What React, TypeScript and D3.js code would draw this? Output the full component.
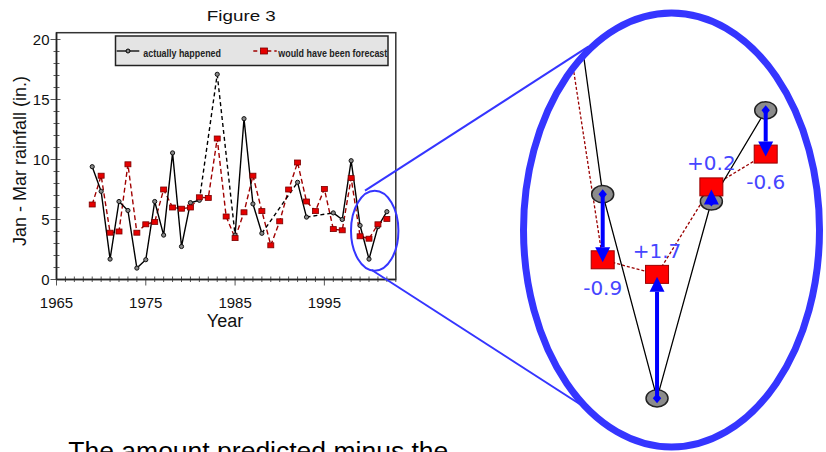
import React from 'react';
import * as d3 from 'd3';

const years: number[] = [
  1969, 1970, 1971, 1972, 1973, 1974, 1975, 1976, 1977, 1978, 1979, 1980,
  1981, 1982, 1983, 1984, 1985, 1986, 1987, 1988, 1989, 1990, 1991, 1992,
  1993, 1994, 1995, 1996, 1997, 1998, 1999, 2000, 2001, 2002,
];
const actual: (number | null)[] = [
  9.4, 7.35, 1.7, 6.5, 5.75, 0.95, 1.65, 6.5, 3.7, 10.55, 2.75, 6.4,
  6.6, null, 17.1, null, 3.7, 13.4, 6.3, 3.85, null, null, null, 8.1,
  5.2, null, null, 5.55, 5.0, 9.9, 4.5, 1.7, 4.4, 5.65,
];
const forecast: number[] = [
  6.25, 8.65, 3.9, 4.0, 9.6, 3.9, 4.6, 4.8, 7.5, 6.0, 5.9, 6.0,
  6.85, 6.8, 11.75, 5.25, 3.45, 5.6, 8.65, 5.7, 2.85, 4.85, 7.5, 9.75,
  6.5, 5.7, 7.55, 4.2, 4.1, 8.45, 3.6, 3.4, 4.6, 5.05,
];
const xTickLabels: number[] = [1965, 1975, 1985, 1995];
const yTickLabels: number[] = [0, 5, 10, 15, 20];
const insetYears: number[] = [1999, 2000, 2001, 2002];
const legendLabels: string[] = ['actually happened', 'would have been forecast'];
const titleText = 'Figure 3';
const xTitle = 'Year';
const yTitle = 'Jan - Mar rainfall (in.)';
const captionText = 'The amount predicted minus the';

type Pt = { yr: number; v: number | null };

const SANS = "'Liberation Sans', Arial, Helvetica, sans-serif";
const NARROW = "'Liberation Sans Narrow', 'Arial Narrow', 'Liberation Sans', Arial, sans-serif";
const BLUE = '#3535ff';

export default function App() {
  const x = d3.scaleLinear().domain([1965, 2003]).range([56.5, 395.8]);
  const y = d3.scaleLinear().domain([0, 20]).range([279.5, 39.5]);
  const frameTop = 32.7;

  const ix = d3.scaleLinear().domain([1999, 2002]).range([602.7, 765.7]);
  const iy = d3.scaleLinear().domain([1.7, 5.7]).range([398.3, 106.7]);

  const aPts: Pt[] = years.map((yr, i) => ({ yr, v: actual[i] }));
  const fPts: Pt[] = years.map((yr, i) => ({ yr, v: forecast[i] }));
  const valid = aPts.filter((d) => d.v !== null);
  const gaps: Pt[][] = [];
  for (let i = 1; i < valid.length; i++) {
    if (valid[i].yr - valid[i - 1].yr > 1) gaps.push([valid[i - 1], valid[i]]);
  }

  const mkLine = (sx: d3.ScaleLinear<number, number>, sy: d3.ScaleLinear<number, number>) =>
    d3
      .line<Pt>()
      .defined((d) => d.v !== null)
      .x((d) => sx(d.yr))
      .y((d) => sy(d.v as number));

  const mainLine = mkLine(x, y);
  const insetLine = mkLine(ix, iy);

  const minorY = d3.range(0, 21, 1);
  const minorX = d3.range(1965, 2004, 1);

  const insetData = insetYears.map((yr) => {
    const i = years.indexOf(yr);
    return { yr, a: actual[i] as number, f: forecast[i] };
  });

  // ellipse geometry
  const big = { cx: 671.5, cy: 230, rx: 148, ry: 217 };
  const small = { cx: 374.7, cy: 230.7, rx: 23.7, ry: 40 };

  return (
    <svg
      width={826}
      height={452}
      style={{ position: 'absolute', left: 0, top: 0, background: '#fff' }}
    >
      <defs>
        <clipPath id="insetClip">
          <ellipse cx={big.cx} cy={big.cy} rx={big.rx - 3} ry={big.ry - 3} />
        </clipPath>
        <clipPath id="plotClip">
          <rect x={x(1965)} y={frameTop} width={x(2003) - x(1965)} height={y(0) - frameTop} />
        </clipPath>
      </defs>
      <rect x={0} y={0} width={826} height={452} fill="#fff" />

      {/* Title */}
      <text
        x={241.3}
        y={20.7}
        textAnchor="middle"
        fontFamily={SANS}
        fontSize={15}
        textLength={69}
        lengthAdjust="spacingAndGlyphs"
        fill="#111"
      >
        {titleText}
      </text>

      {/* Frame */}
      <rect
        x={x(1965)}
        y={frameTop}
        width={x(2003) - x(1965)}
        height={y(0) - frameTop}
        fill="none"
        stroke="#333"
        strokeWidth={1.5}
      />

      {/* Y ticks */}
      {minorY.map((v) => (
        <line
          key={'my' + v}
          x1={x(1965) - (v % 5 === 0 ? 6 : 3)}
          x2={x(1965) + (v % 5 === 0 ? 4 : 3)}
          y1={y(v)}
          y2={y(v)}
          stroke="#555"
          strokeWidth={1}
        />
      ))}
      {yTickLabels.map((v) => (
        <text
          key={'yl' + v}
          x={49.5}
          y={y(v)}
          dy="0.36em"
          textAnchor="end"
          fontFamily={SANS}
          fontSize={15}
          fill="#111"
        >
          {v}
        </text>
      ))}
      {/* X ticks */}
      {minorX.map((yr) => (
        <line
          key={'mx' + yr}
          x1={x(yr)}
          x2={x(yr)}
          y1={y(0) - 3}
          y2={y(0) + ((yr - 1965) % 10 === 0 ? 6 : 2.5)}
          stroke="#555"
          strokeWidth={1}
        />
      ))}
      {xTickLabels.map((yr) => (
        <text
          key={'xl' + yr}
          x={x(yr)}
          y={308.3}
          textAnchor="middle"
          fontFamily={SANS}
          fontSize={15}
          fill="#111"
        >
          {yr}
        </text>
      ))}
      {/* axis lines */}
      <line x1={x(1965)} x2={x(2003)} y1={y(0)} y2={y(0)} stroke="#222" strokeWidth={1.5} />
      <line x1={x(1965)} x2={x(1965)} y1={frameTop} y2={y(0)} stroke="#222" strokeWidth={1.5} />

      {/* Axis titles */}
      <text x={225} y={326.5} textAnchor="middle" fontFamily={SANS} fontSize={18} fill="#111">
        {xTitle}
      </text>
      <text
        transform="translate(26,161) rotate(-90)"
        textAnchor="middle"
        fontFamily={SANS}
        fontSize={18}
        fill="#111"
      >
        {yTitle}
      </text>

      {/* Legend */}
      <rect x={115.5} y={36} width={272.5} height={29.5} fill="#e4e4e4" stroke="#222" strokeWidth={1.5} />
      <line x1={116.7} x2={139.3} y1={51} y2={51} stroke="#000" strokeWidth={1.3} />
      <circle cx={128} cy={51} r={2} fill="#888" stroke="#000" strokeWidth={1} />
      <text
        x={143.3}
        y={57}
        fontFamily={NARROW}
        fontWeight="bold"
        fontSize={11}
        textLength={77.7}
        lengthAdjust="spacingAndGlyphs"
        fill="#222"
      >
        {legendLabels[0]}
      </text>
      <line
        x1={253.3}
        x2={276.7}
        y1={51}
        y2={51}
        stroke="#a00000"
        strokeWidth={1.3}
        strokeDasharray="4,3"
      />
      <rect x={260.5} y={48} width={7} height={6} fill="#e60000" stroke="#7a0000" strokeWidth={0.8} />
      <text
        x={278.3}
        y={57}
        fontFamily={NARROW}
        fontWeight="bold"
        fontSize={11}
        textLength={109}
        lengthAdjust="spacingAndGlyphs"
        fill="#222"
      >
        {legendLabels[1]}
      </text>

      {/* Series */}
      <g clipPath="url(#plotClip)">
        <path
          d={mainLine(fPts) || ''}
          fill="none"
          stroke="#a00000"
          strokeWidth={1.4}
          strokeDasharray="5,3"
        />
        {gaps.map((g, i) => (
          <path
            key={'gap' + i}
            d={mainLine(g) || ''}
            fill="none"
            stroke="#000"
            strokeWidth={1.4}
            strokeDasharray="4,3"
          />
        ))}
        <path d={mainLine(aPts) || ''} fill="none" stroke="#000" strokeWidth={1.4} />
        {valid.map((d) => (
          <circle
            key={'c' + d.yr}
            cx={x(d.yr)}
            cy={y(d.v as number)}
            r={2.1}
            fill="#888"
            stroke="#111"
            strokeWidth={1}
          />
        ))}
        {fPts.map((d) => (
          <rect
            key={'s' + d.yr}
            x={x(d.yr) - 3}
            y={y(d.v as number) - 2.5}
            width={6}
            height={5}
            fill="#e60000"
            stroke="#7a0000"
            strokeWidth={0.8}
          />
        ))}
      </g>

      {/* Small ellipse and connecting lines */}
      <ellipse
        cx={small.cx}
        cy={small.cy}
        rx={small.rx}
        ry={small.ry}
        fill="none"
        stroke={BLUE}
        strokeWidth={2}
      />
      <line x1={365} y1={190.7} x2={588.3} y2={46.7} stroke={BLUE} strokeWidth={2} />
      <line x1={371.7} y1={270} x2={596.7} y2={415} stroke={BLUE} strokeWidth={2} />

      {/* Inset */}
      <ellipse cx={big.cx} cy={big.cy} rx={big.rx} ry={big.ry} fill="#fff" />
      <g clipPath="url(#insetClip)">
        <path
          d={insetLine(fPts) || ''}
          fill="none"
          stroke="#9a0000"
          strokeWidth={1.3}
          strokeDasharray="3,2"
        />
        <path d={insetLine(aPts) || ''} fill="none" stroke="#000" strokeWidth={1.3} />
        {valid.map((d) => (
          <ellipse
            key={'ic' + d.yr}
            cx={ix(d.yr)}
            cy={iy(d.v as number)}
            rx={11}
            ry={8.6}
            fill="#8c8c8c"
            stroke="#222"
            strokeWidth={1.5}
          />
        ))}
        {fPts.map((d) => (
          <rect
            key={'is' + d.yr}
            x={ix(d.yr) - 11.5}
            y={iy(d.v as number) - 9}
            width={23}
            height={18}
            fill="#ff0000"
            stroke="#990000"
            strokeWidth={1}
          />
        ))}
        {insetData.map((d) => {
          const ax = ix(d.yr);
          const y1 = iy(d.a);
          const y2 = iy(d.f);
          const dir = y2 > y1 ? 1 : -1;
          const tip = y2 + 2.5;
          const base = tip - dir * 15;
          return (
            <g key={'ar' + d.yr}>
              <line x1={ax} x2={ax} y1={y1} y2={base} stroke="#0000ff" strokeWidth={4} />
              <path
                d={`M${ax},${tip}L${ax - 7.5},${base}L${ax + 7.5},${base}Z`}
                fill="#0000ff"
              />
              <path
                d={`M${ax},${y1 - 5}L${ax + 4.2},${y1}L${ax},${y1 + 5}L${ax - 4.2},${y1}Z`}
                fill="#0000ff"
              />
            </g>
          );
        })}
        {insetData.map((d) => {
          const diff = d.f - d.a;
          const yPos = iy(d.f);
          const label = (diff > 0 ? '+' : '') + diff.toFixed(1);
          return (
            <text
              key={'lab' + d.yr}
              x={ix(d.yr)}
              y={diff > 0 ? yPos - 16.7 : yPos + 35.3}
              textAnchor="middle"
              fontFamily="'DejaVu Sans', Verdana, sans-serif"
              fontSize={20}
              fill="#4646ff"
            >
              {label}
            </text>
          );
        })}
      </g>
      <ellipse
        cx={big.cx}
        cy={big.cy}
        rx={big.rx}
        ry={big.ry}
        fill="none"
        stroke={BLUE}
        strokeWidth={7}
      />

      {/* Caption (cut off at the bottom) */}
      <text x={68.3} y={460} fontFamily={SANS} fontSize={26.5} fill="#000">
        {captionText}
      </text>
    </svg>
  );
}
